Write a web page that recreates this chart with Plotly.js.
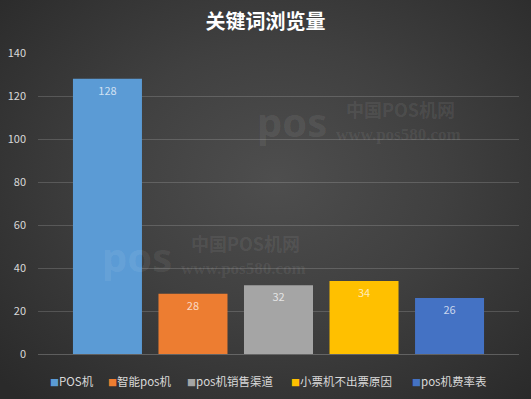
<!DOCTYPE html>
<html>
<head>
<meta charset="utf-8">
<script src="https://cdn.plot.ly/plotly-3.0.1.min.js"></script>
<style>
html,body{margin:0;padding:0;}
body{width:531px;height:399px;overflow:hidden;
background:radial-gradient(ellipse 70% 75% at 52% 45%, #4e4e4e 0%, #404040 45%, #2a2a2a 100%);}
#chart{width:531px;height:399px;}
</style>
</head>
<body>
<div id="chart"></div>
<script>
const title = '关键词浏览量';
const seriesNames = ['POS机', '智能pos机', 'pos机销售渠道', '小票机不出票原因', 'pos机费率表'];
const seriesValues = [128, 28, 32, 34, 26];
const seriesColors = ['#5b9bd5', '#ed7d31', '#a5a5a5', '#ffc000', '#4472c4'];
const category = [''];
const yTicks = [0, 20, 40, 60, 80, 100, 120, 140];

const FONT = '"Noto Sans CJK SC", "Noto Sans", sans-serif';
const PLOT_L = 38, PLOT_W = 481, PLOT_B = 354, PLOT_H = 301;
const px2x = px => (px - PLOT_L) / PLOT_W;
const py2y = py => (PLOT_B - py) / PLOT_H;

const traces = seriesNames.map((name, i) => ({
  type: 'bar',
  name: name,
  x: category,
  y: [seriesValues[i]],
  text: [String(seriesValues[i])],
  textposition: 'inside',
  insidetextanchor: 'end',
  textangle: 0,
  textfont: {family: FONT, size: 11, color: 'rgba(255,255,255,0.72)'},
  marker: {color: seriesColors[i], line: {width: 0}},
  showlegend: false,
  hoverinfo: 'skip'
}));

// legend drawn as a row of labels below the plot (left edges in px of the page)
const legendLeftPx = [48, 106, 185, 289, 410];
const legendAnn = seriesNames.map((name, i) => ({
  xref: 'paper', yref: 'paper', showarrow: false,
  x: px2x(legendLeftPx[i]), xanchor: 'left',
  y: py2y(381), yanchor: 'middle',
  text: '<span style="color:' + seriesColors[i] + ';font-size:9px">■</span>' + name,
  font: {family: FONT, size: 11.5, color: '#d9d9d9'}
}));

const wm = 'rgba(255,255,255,0.08)';
function watermark(cx, cy) {
  return [
    {text: '<b>pos</b>', x: px2x(cx), y: py2y(cy + 4), font: {family: '"Noto Sans", sans-serif', size: 40, color: wm}},
    {text: '<b>中国POS机网</b>', x: px2x(cx + 108), y: py2y(cy - 9), font: {family: '"Noto Sans CJK SC", serif', size: 18, color: wm}},
    {text: '<b>www.pos580.com</b>', x: px2x(cx + 106), y: py2y(cy + 16), font: {family: '"Liberation Serif", serif', size: 17, color: wm}}
  ];
}
const wmAnn = [...watermark(292, 118), ...watermark(137, 252)].map(a => Object.assign({
  xref: 'paper', yref: 'paper', showarrow: false, xanchor: 'center', yanchor: 'middle'
}, a));

const layout = {
  width: 531, height: 399,
  paper_bgcolor: 'rgba(0,0,0,0)',
  plot_bgcolor: 'rgba(0,0,0,0)',
  margin: {l: PLOT_L, r: 531 - PLOT_L - PLOT_W, t: PLOT_B - PLOT_H, b: 399 - PLOT_B},
  title: {
    text: '<b>' + title + '</b>',
    font: {family: FONT, size: 20, color: '#ffffff'},
    x: 0.5, xanchor: 'center', xref: 'container',
    y: 1 - 22 / 399, yanchor: 'middle', yref: 'container'
  },
  barmode: 'group',
  bargap: 0.111,
  bargroupgap: 0.193,
  xaxis: {
    showticklabels: false, showgrid: false, zeroline: false,
    showline: false, ticks: ''
  },
  yaxis: {
    range: [0, 140], tickvals: yTicks, ticktext: yTicks.map(String),
    showgrid: true, gridcolor: 'rgba(255,255,255,0.16)', gridwidth: 1,
    zeroline: true, zerolinecolor: 'rgba(255,255,255,0.22)', zerolinewidth: 1,
    showline: false, ticks: '', ticklabelstandoff: 11,
    tickfont: {family: FONT, size: 11, color: '#d9d9d9'},
    fixedrange: true
  },
  showlegend: false,
  annotations: [...wmAnn, ...legendAnn]
};

Plotly.newPlot('chart', traces, layout, {displayModeBar: false, staticPlot: true});
</script>
</body>
</html>
